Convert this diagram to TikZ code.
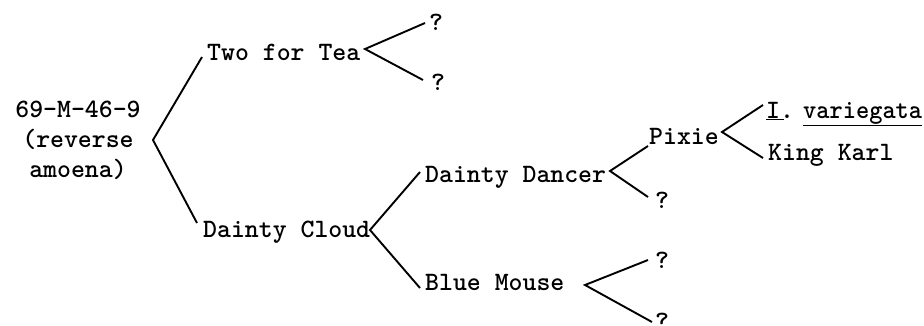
\documentclass[tikz,border=0pt]{standalone}
\usepackage{graphicx}
\begin{document}
\begin{tikzpicture}[x=1pt,y=-1pt,
  lbl/.style={anchor=base west,inner sep=0pt,font=\fontsize{26.5}{30}\selectfont\ttfamily\bfseries},
  link/.style={line width=1.9pt}]
\useasboundingbox (0,0) rectangle (924,325);
\node[inner sep=0pt,align=center,font=\fontsize{26.5}{30}\selectfont\ttfamily\bfseries] (root) at (78,140) {69-M-46-9\\(reverse\\amoena)};
\node[lbl] (two) at (207,60) {Two for Tea};
\node[lbl] (cloud) at (203,237) {Dainty Cloud};
\node[lbl] (q1) at (429,30) {?};
\node[lbl] (q2) at (431,90) {?};
\node[lbl] (dancer) at (425,182) {Dainty Dancer};
\node[lbl] (mouse) at (425,290) {Blue Mouse};
\node[lbl] (pixie) at (649,144) {Pixie};
\node[lbl] (q3) at (655,208) {?};
\node[lbl] (iv) at (766,118) {\underline{\makebox[18pt][l]{I.}}\hspace{19pt}\underline{\scalebox{0.95}[1]{variegata}}};
\node[lbl] (kk) at (768,160) {King Karl};
\node[lbl] (q4) at (655,268) {?};
\node[lbl] (q5) at (655,329) {?};
% junction points
\coordinate (vr) at (153,140);
\coordinate (ert) at (202,57);  \coordinate (erb) at (197,223);
\coordinate (vt) at (365,49);
\coordinate (ett) at (425,23);  \coordinate (etb) at (423,80);
\coordinate (vc) at (370,230);
\coordinate (ect) at (420,172); \coordinate (ecb) at (420,288);
\coordinate (vd) at (610,171);
\coordinate (edt) at (648,146); \coordinate (edb) at (648,197);
\coordinate (vp) at (722,132);
\coordinate (ept) at (763,105); \coordinate (epb) at (763,158);
\coordinate (vm) at (585,285);
\coordinate (emt) at (648,260); \coordinate (emb) at (652,322);
\draw[link] (ert) -- (vr) -- (erb);
\draw[link] (ett) -- (vt) -- (etb);
\draw[link] (ect) -- (vc) -- (ecb);
\draw[link] (edt) -- (vd) -- (edb);
\draw[link] (ept) -- (vp) -- (epb);
\draw[link] (emt) -- (vm) -- (emb);
\end{tikzpicture}
\end{document}
